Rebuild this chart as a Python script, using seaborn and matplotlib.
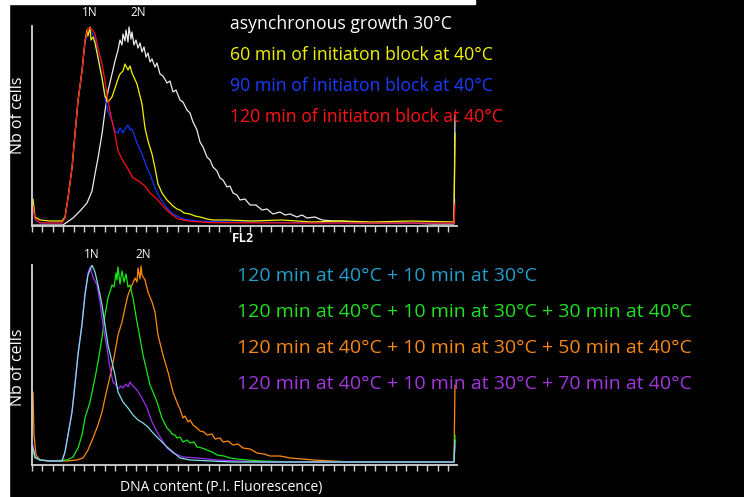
import numpy as np
import pandas as pd
import matplotlib
matplotlib.use("Agg")
import matplotlib.pyplot as plt
from matplotlib.patches import Rectangle
import seaborn as sns

# ---------------- data (channel, counts) ----------------
# top panel
async_x = [1, 20, 31, 41, 48, 55, 60, 63, 66, 70, 73, 76, 80, 83, 86, 88, 90, 91, 93, 94, 96, 97, 99, 100,
           102, 104, 106, 108, 110, 112, 114, 116, 118, 120, 123, 125, 128, 131, 135, 138, 141, 144, 148,
           151, 155, 158, 161, 165, 168, 171, 175, 178, 181, 185, 188, 191, 195, 198, 201, 205, 208, 213,
           218, 224, 230, 235, 241, 248, 253, 258, 265, 270, 275, 283, 290, 301, 310, 328, 350, 378, 401,
           422, 423]
async_y = [1, 1, 1, 8, 15, 23, 35, 52, 68, 92, 115, 135, 152, 165, 176, 186, 181, 192, 185, 196, 184, 199,
           187, 194, 181, 186, 178, 183, 174, 179, 169, 173, 164, 167, 159, 163, 152, 150, 143, 145, 134,
           136, 126, 124, 116, 113, 104, 96, 84, 79, 69, 66, 59, 55, 48, 46, 39, 40, 33, 31, 26, 27,
           21, 21, 16, 17, 12, 14, 11, 12, 9, 11, 8, 9, 6, 5, 5, 3, 3, 3, 2, 2, 111]

b60_x = [1, 3, 8, 18, 30, 33, 36, 40, 43, 46, 50, 53, 55, 56, 58, 59, 61, 63, 66, 70, 73, 76, 80, 83, 86,
         88, 91, 93, 96, 98, 100, 105, 110, 113, 116, 120, 123, 126, 130, 135, 138, 141, 145, 148, 152,
         158, 163, 168, 175, 181, 195, 220, 250, 280, 310, 340, 380, 422, 423]
b60_y = [27, 9, 6, 5, 5, 9, 28, 58, 92, 125, 155, 185, 196, 190, 199, 186, 189, 183, 168, 148, 130, 124,
         129, 138, 147, 152, 155, 162, 156, 160, 153, 142, 122, 98, 85, 72, 58, 42, 33, 26, 23, 20, 17,
         16, 13, 12, 10, 9, 7, 6, 6, 5, 6, 4, 5, 4, 5, 4, 93]

b90_x = [1, 3, 8, 18, 30, 33, 36, 40, 43, 46, 50, 53, 56, 59, 63, 66, 70, 73, 76, 80, 83, 86, 88, 91, 93,
         96, 98, 100, 105, 110, 115, 118, 123, 128, 135, 141, 151, 165, 200, 300, 422, 423]
b90_y = [20, 6, 3, 3, 3, 8, 28, 58, 92, 125, 155, 183, 193, 195, 188, 172, 148, 128, 115, 105, 95, 93, 98,
         93, 97, 101, 96, 97, 83, 72, 58, 52, 38, 28, 18, 12, 7, 5, 4, 3, 3, 27]

b120_x = [1, 3, 8, 18, 30, 33, 36, 40, 43, 46, 50, 53, 56, 60, 63, 66, 70, 73, 76, 80, 83, 86, 91, 96, 101,
          105, 108, 113, 118, 125, 131, 138, 146, 158, 181, 268, 368, 422, 423]
b120_y = [20, 7, 3.3, 3, 3, 8, 28, 58, 92, 125, 155, 185, 198, 197, 192, 178, 162, 145, 125, 105, 92, 75,
          65, 57, 48, 46, 44, 40, 33, 27, 20, 13, 7, 4.7, 3.3, 3, 3, 3, 22]

# bottom panel
r10_x = [1, 3, 8, 18, 30, 33, 36, 40, 43, 46, 50, 53, 56, 60, 63, 66, 70, 73, 76, 80, 83, 86, 91, 96, 101,
         106, 111, 116, 121, 128, 135, 141, 148, 158, 200, 300, 422, 423]
r10_y = [17, 8, 5, 4, 4, 13, 30, 53, 80, 110, 140, 170, 190, 200, 193, 180, 160, 140, 120, 103, 90, 73, 63,
         57, 50, 45, 42, 38, 32, 25, 18, 13, 7, 5, 3, 3, 3, 25]

r30_x = [1, 3, 8, 18, 35, 41, 46, 50, 53, 58, 63, 66, 70, 73, 76, 80, 82, 84, 85, 86, 88, 90, 92, 94, 96,
         98, 101, 105, 108, 111, 115, 118, 121, 125, 130, 133, 135, 138, 140, 143, 145, 148, 151, 155,
         158, 162, 165, 170, 175, 180, 185, 192, 198, 205, 215, 230, 260, 300, 422, 423]
r30_y = [15, 7, 5, 4, 5, 8, 17, 30, 47, 63, 87, 103, 127, 150, 167, 180, 178, 192, 185, 198, 181, 194, 183,
         191, 178, 180, 167, 143, 127, 110, 93, 80, 73, 63, 47, 41, 37, 34, 31, 30, 27, 28, 23, 25,
         22, 23, 18, 17, 15, 13, 10, 9, 7, 6, 5, 4, 3, 3, 3, 30]

r50_x = [1, 2, 4, 8, 18, 35, 45, 51, 56, 61, 66, 70, 73, 76, 80, 83, 86, 90, 93, 96, 100, 103, 105, 106, 108,
         109, 110, 113, 116, 120, 123, 126, 131, 136, 141, 146, 148, 151, 153, 156, 158, 161, 165, 168,
         172, 175, 180, 183, 188, 191, 196, 201, 206, 211, 218, 225, 232, 238, 248, 258, 270, 281, 300,
         320, 370, 422, 423]
r50_y = [73, 30, 10, 5, 4, 4, 5, 7, 15, 27, 40, 53, 67, 80, 97, 113, 130, 143, 157, 170, 180, 187, 183, 197,
         186, 199, 190, 185, 173, 163, 153, 130, 110, 93, 73, 60, 56, 47, 49, 43, 45, 40, 37, 34,
         33, 30, 31, 26, 27, 23, 24, 20, 21, 17, 16, 12, 11, 9, 9, 7, 6, 5, 4, 3, 3, 3, 80]

r70_x = [1, 3, 8, 18, 30, 33, 36, 40, 43, 46, 50, 53, 56, 58, 61, 65, 68, 71, 75, 78, 81, 84, 86, 89, 91,
         94, 96, 98, 100, 105, 110, 115, 120, 125, 130, 135, 141, 151, 165, 185, 230, 422, 423]
r70_y = [20, 8, 5, 4, 4, 13, 30, 53, 82, 112, 142, 172, 192, 198, 188, 180, 163, 140, 117, 97, 83, 80, 76,
         79, 77, 81, 78, 83, 80, 75, 67, 57, 43, 33, 25, 17, 12, 8, 7, 5, 3, 3, 20]

top_labels = ["asynchronous growth 30°C",
              "60 min of initiaton block at 40°C",
              "90 min of initiaton block at 40°C",
              "120 min of initiaton block at 40°C"]
bottom_labels = ["120 min at 40°C + 10 min at 30°C",
                 "120 min at 40°C + 10 min at 30°C + 30 min at 40°C",
                 "120 min at 40°C + 10 min at 30°C + 50 min at 40°C",
                 "120 min at 40°C + 10 min at 30°C + 70 min at 40°C"]

# ---------------- style ----------------
sns.set_style("dark")
plt.rcParams['font.family'] = ['Open Sans', 'DejaVu Sans']

W, H = 744, 497
fig = plt.figure(figsize=(W / 100, H / 100), dpi=100, facecolor='black')

def ax_rect(left, right, bottom, top):
    return [left / W, 1 - bottom / H, (right - left) / W, (bottom - top) / H]

ax1 = fig.add_axes(ax_rect(32, 457, 226, 26))
ax2 = fig.add_axes(ax_rect(32, 457, 465, 265))

axis_col = '#d4d4d4'
for ax in (ax1, ax2):
    ax.set_facecolor('black')
    ax.set_xlim(0, 425)
    ax.set_ylim(0, 200)
    for s in ('top', 'right'):
        ax.spines[s].set_visible(False)
    for s in ('left', 'bottom'):
        ax.spines[s].set_visible(True)
        ax.spines[s].set_color(axis_col)
        ax.spines[s].set_linewidth(1.3)
    ax.set_xticks(np.arange(0, 420, 10.4))
    ax.set_xticklabels([])
    ax.set_yticks([])
    ax.tick_params(axis='x', direction='out', length=4, width=1, color=axis_col, bottom=True)
    ax.grid(False)

def draw(ax, xs, ys, color):
    df = pd.DataFrame({'ch': xs, 'n': ys})
    sns.lineplot(data=df, x='ch', y='n', ax=ax, color=color, linewidth=0.9,
                 estimator=None, sort=False, legend=False)

# top panel curves
draw(ax1, async_x, async_y, '#ececec')
draw(ax1, b90_x, b90_y, '#1432ff')
draw(ax1, b60_x, b60_y, '#f2f200')
draw(ax1, b120_x, b120_y, '#ff1010')

# bottom panel curves
draw(ax2, r50_x, r50_y, '#ff8a10')
draw(ax2, r30_x, r30_y, '#18e818')
draw(ax2, r70_x, r70_y, '#9a30f0')
draw(ax2, r10_x, r10_y, '#80dce6')

for ax in (ax1, ax2):
    ax.set_xlabel('')
    ax.set_ylabel('')

def ftext(x, y, s, **kw):
    fig.text(x / W, 1 - y / H, s, **kw)

# legends
top_cols = ['#ffffff', '#f2f200', '#1a3cff', '#ff1414']
for i, (lab, c) in enumerate(zip(top_labels, top_cols)):
    ftext(230, 24 + i * 31, lab, color=c, fontsize=12.7, va='center', ha='left')
bot_cols = ['#229fcc', '#22e022', '#f58816', '#a238dc']
for i, (lab, c) in enumerate(zip(bottom_labels, bot_cols)):
    ftext(237, 276 + i * 36, lab, color=c, fontsize=14, va='center', ha='left')

# peak markers
for (x, y, s) in [(90, 13, '1N'), (138, 13, '2N'), (92, 254, '1N'), (143, 254, '2N')]:
    ftext(x, y, s, color='white', fontsize=8.5, ha='center', va='center')

ftext(243, 239, 'FL2', color='white', fontsize=9, ha='center', va='center',
      family='DejaVu Sans Mono', fontweight='bold')
ftext(18, 115, 'Nb of cells', color='white', fontsize=11.5, ha='center', va='center', rotation=90)
ftext(18, 367, 'Nb of cells', color='white', fontsize=11.5, ha='center', va='center', rotation=90)
ftext(221, 487, 'DNA content (P.I. Fluorescence)', color='white', fontsize=10, ha='center', va='center')

# white border strips of the original screenshot
fig.patches.append(Rectangle((0, 0), 9 / W, 1, transform=fig.transFigure, color='white', zorder=10))
fig.patches.append(Rectangle((0, 1 - 4 / H), 475 / W, 4 / H, transform=fig.transFigure,
                             color='white', zorder=10))

fig.savefig('out.png', dpi=100, facecolor='black')
